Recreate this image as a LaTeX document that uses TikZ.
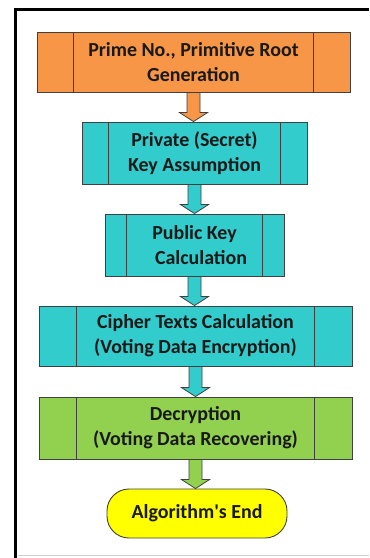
\documentclass[tikz,border=0pt]{standalone}
\usepackage{fontspec}
\setmainfont{Carlito}
\usepackage{textcomp}
\usetikzlibrary{calc}
\definecolor{procorange}{HTML}{F79646}
\definecolor{proccyan}{HTML}{33CCCC}
\definecolor{procgreen}{HTML}{92D050}
\definecolor{endyellow}{HTML}{FFFF00}
\definecolor{edge}{HTML}{404040}
\tikzset{
  procbox/.style={draw=edge, line width=0.9bp, inner sep=0pt, text=black!90, font=\bfseries\fontsize{20}{25}\selectfont, align=center},
  sidebar/.style={draw=edge, line width=0.9bp},
  blockarrow/.style={draw=edge, line width=0.8bp},
}
% predefined-process box: name, fill, left, top, right, bottom, bar offset, text
\newcommand{\procstep}[8]{%
  \node[procbox, fill=#2, minimum width={(#5-#3)*1bp}, minimum height={(#6-#4)*1bp}] (#1) at ({(#3+#5)/2},{(#4+#6)/2}) {#8};
  \draw[sidebar] ([xshift=#7bp]#1.north west) -- ([xshift=#7bp]#1.south west);
  \draw[sidebar] ([xshift=-#7bp]#1.north east) -- ([xshift=-#7bp]#1.south east);
}
% block arrow from the bottom of one node down to the top of the next
\newcommand{\flowarrow}[3]{%
  \coordinate (#1-tip) at (#1.south |- #2.north);
  \draw[blockarrow, fill=#3]
    ($(#1.south)+(-6.5,0)$) -- ($(#1-tip)+(-6.5,-9)$) -- ($(#1-tip)+(-14,-9)$)
    -- (#1-tip) -- ($(#1-tip)+(14,-9)$) -- ($(#1-tip)+(6.5,-9)$)
    -- ($(#1.south)+(6.5,0)$) -- cycle;
}
\begin{document}
\begin{tikzpicture}[x=1bp,y=-1bp]
\useasboundingbox (0,0) rectangle (369,558);
\fill[white] (0,0) rectangle (369,558);
% frame
\draw[line width=3.5bp, black] (15.5,558) -- (15.5,9.5) -- (369,9.5);
\draw[line width=1bp, black!18] (17.5,555.5) -- (369,555.5);

\procstep{s1}{procorange}{37}{32}{350}{92}{37}{Prime No., Primitive Root\\Generation}
\procstep{s2}{proccyan}{82}{122}{307}{184}{27}{Private (Secret)\\Key Assumption}
\procstep{s3}{proccyan}{105}{214}{284}{276}{22}{Public Key\\\hspace*{13bp}Calculation}
\procstep{s4}{proccyan}{39}{306}{352}{366}{38}{Cipher Texts Calculation\\(Voting Data Encryption)}
\procstep{s5}{procgreen}{39}{397}{352}{459}{38}{Decryption\\(Voting Data Recovering)}
\node[procbox, fill=endyellow, rounded corners=22bp, minimum width=180bp, minimum height=49bp] (s6) at (197,513.5) {Algorithm\textquotesingle s End};

\flowarrow{s1}{s2}{procorange}
\flowarrow{s2}{s3}{proccyan}
\flowarrow{s3}{s4}{proccyan}
\flowarrow{s4}{s5}{proccyan}
\flowarrow{s5}{s6}{procgreen}
\end{tikzpicture}
\end{document}
